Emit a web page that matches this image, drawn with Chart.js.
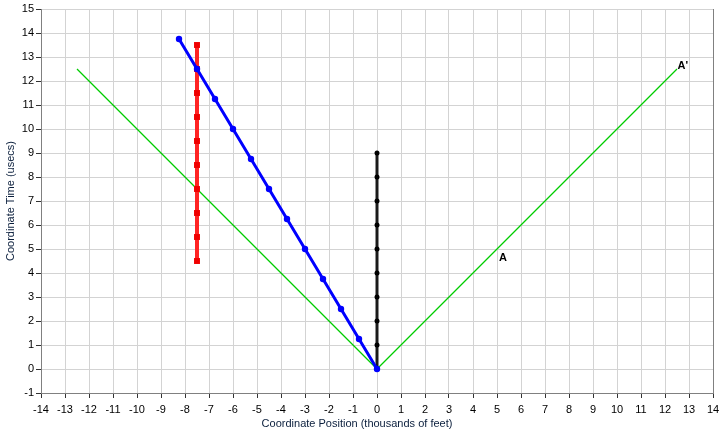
<!DOCTYPE html>
<html>
<head>
<meta charset="utf-8">
<script src="https://cdn.jsdelivr.net/npm/chart.js@4"></script>
<style>
  html, body { margin:0; padding:0; background:#fff; }
  #wrap { width:725px; height:433px; }
</style>
</head>
<body>
<div id="wrap"><canvas id="chart" width="725" height="433"></canvas></div>
<script>
// data
const greenLeftX = [-12.5, 0];
const greenLeftY = [12.5, 0];
const greenRightX = [12.5, 0];
const greenRightY = [12.5, 0];
const blackX = [0, 0, 0, 0, 0, 0, 0, 0, 0, 0];
const blackY = [0, 1, 2, 3, 4, 5, 6, 7, 8, 9];
const redX = [-7.5, -7.5, -7.5, -7.5, -7.5, -7.5, -7.5, -7.5, -7.5, -7.5];
const redY = [4.5, 5.5, 6.5, 7.5, 8.5, 9.5, 10.5, 11.5, 12.5, 13.5];
const blueX = [-8.25, -7.5, -6.75, -6, -5.25, -4.5, -3.75, -3, -2.25, -1.5, -0.75, 0];
const blueY = [13.75, 12.5, 11.25, 10, 8.75, 7.5, 6.25, 5, 3.75, 2.5, 1.25, 0];
const labelText = ['A', "A'"];
const labelX = [5.08, 12.52];
const labelY = [4.52, 12.52];
const xTitle = 'Coordinate Position (thousands of feet)';
const yTitle = 'Coordinate Time (usecs)';

const pts = (xs, ys) => xs.map((x,i) => ({x, y: ys[i]}));
const FONT = "'Liberation Sans', Arial, sans-serif";

// point labels + x axis title (the original centres it left of the plot centre)
const labels = {
  id: 'labels',
  afterDraw(chart) {
    const {ctx, scales:{x, y}} = chart;
    ctx.save();
    ctx.fillStyle = '#000';
    ctx.font = 'bold 11px ' + FONT;
    ctx.textBaseline = 'alphabetic';
    labelText.forEach((t,i) => {
      ctx.fillText(t, x.getPixelForValue(labelX[i]), y.getPixelForValue(labelY[i]));
    });
    ctx.font = '11px ' + FONT;
    ctx.fillStyle = '#0a1e3c';
    ctx.textAlign = 'center';
    ctx.fillText(xTitle, 357, 427);
    ctx.restore();
  }
};

const green = (xs, ys) => ({ data: pts(xs, ys), showLine:true, borderColor:'#00cc00',
  backgroundColor:'#00cc00', borderWidth:1.2, pointRadius:0, order:5 });

new Chart(document.getElementById('chart'), {
  type: 'scatter',
  data: {
    datasets: [
      green(greenLeftX, greenLeftY),
      green(greenRightX, greenRightY),
      { data: pts(blackX, blackY), showLine:true, borderColor:'#1a1a1a', backgroundColor:'#000',
        borderWidth:3, pointRadius:2.5, pointBorderWidth:0, pointStyle:'circle', order:3 },
      { data: pts(redX, redY), showLine:true, borderColor:'#ff2424', backgroundColor:'#f00000',
        borderWidth:4, pointRadius:4.2, pointBorderWidth:0, pointStyle:'rect', order:2 },
      { data: pts(blueX, blueY), showLine:true, borderColor:'#0000ff', backgroundColor:'#0000ff',
        borderWidth:3, pointRadius:3.2, pointBorderWidth:0, pointStyle:'circle', order:1 }
    ]
  },
  options: {
    responsive:false, animation:false,
    layout:{ padding:{ top:9, right:11, left:0, bottom:0 } },
    plugins:{ legend:{display:false}, tooltip:{enabled:false} },
    scales:{
      x:{
        type:'linear', min:-14, max:14,
        afterFit(s){ s.height = 40; },
        ticks:{ stepSize:1, autoSkip:false, color:'#000', padding:5, font:{family:FONT, size:11} },
        grid:{ color:'#d3d3d3', tickColor:'#333', tickLength:5 },
        border:{ color:'#808080' }
      },
      y:{
        type:'linear', min:-1, max:15,
        afterFit(s){ s.width = 41; },
        ticks:{ stepSize:1, autoSkip:false, color:'#000', padding:2, font:{family:FONT, size:11} },
        grid:{ color:'#d3d3d3', tickColor:'#333', tickLength:5 },
        border:{ color:'#808080' },
        title:{ display:true, text:yTitle, color:'#0a1e3c',
          font:{family:FONT, size:11}, padding:{top:4, bottom:0} }
      },
      yRight:{
        type:'linear', position:'right', min:-1, max:15,
        afterFit(s){ s.width = 1; },
        ticks:{ display:false },
        grid:{ display:false, drawTicks:false },
        border:{ color:'#808080' }
      }
    }
  },
  plugins:[labels]
});
</script>
</body>
</html>
